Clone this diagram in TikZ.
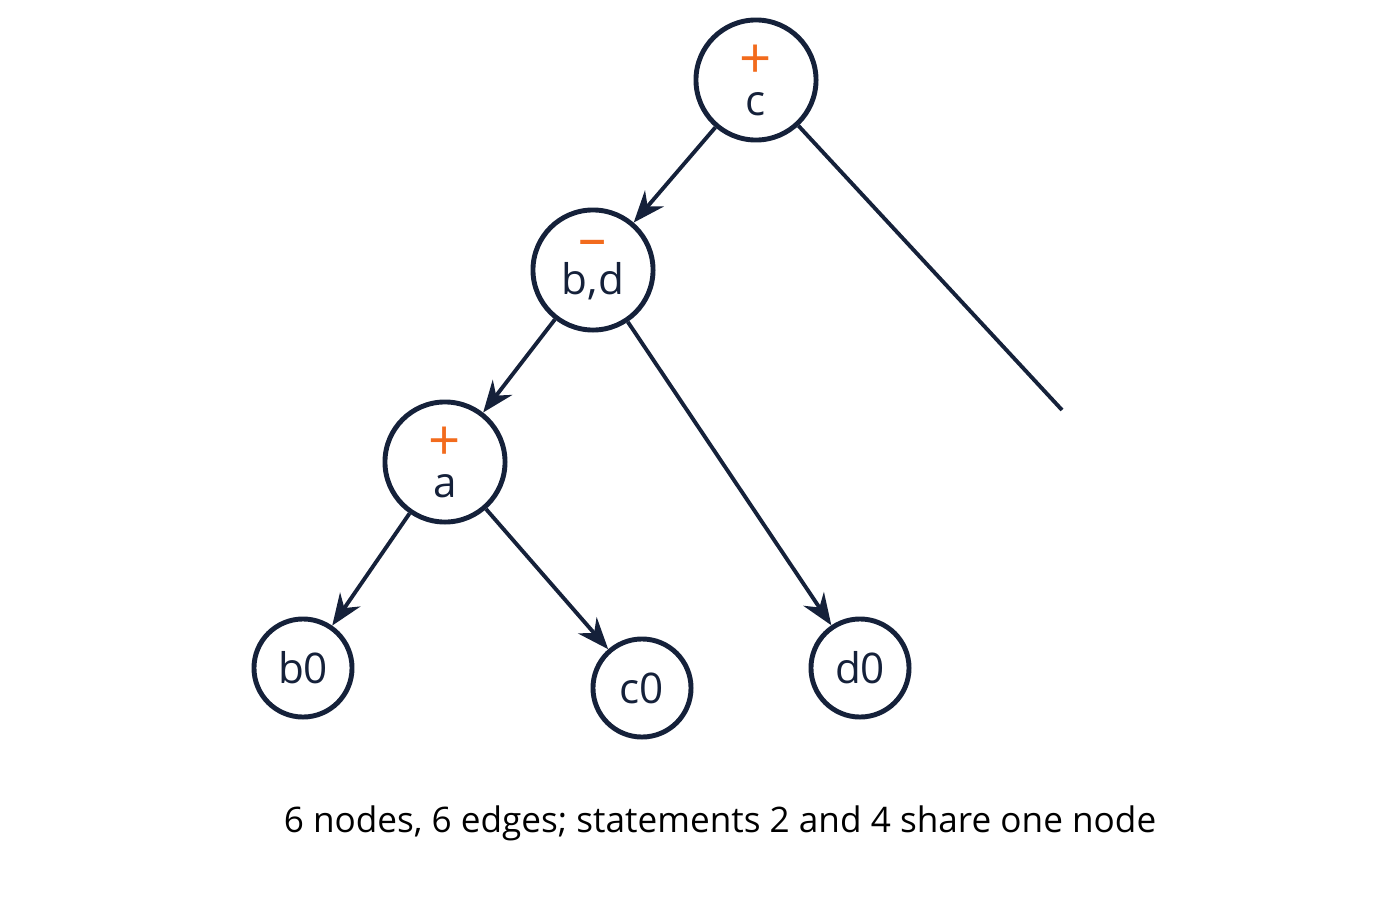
\documentclass[tikz,border=0pt]{standalone}
\usepackage{fontspec}
\setmainfont{Open Sans}
\usetikzlibrary{arrows.meta}
\definecolor{ink}{HTML}{15213A}
\definecolor{op}{HTML}{F26B1D}
\begin{document}
\begin{tikzpicture}[x=0.01cm,y=-0.01cm,
  big/.style={circle,draw=ink,line width=1.4pt,minimum size=1.2cm,inner sep=0pt,align=center,font=\fontsize{12}{12}\selectfont,text=ink},
  leaf/.style={circle,draw=ink,line width=1.4pt,minimum size=0.98cm,inner sep=0pt,font=\fontsize{12}{12}\selectfont,text=ink},
  edge/.style={draw=ink,line width=1.1pt,-{Stealth[length=9pt,width=7pt]}}]
\useasboundingbox (0,0) rectangle (1400,900);
\node[big] (c) at (756,80) {\textcolor{op}{\fontsize{16}{16}\selectfont +}\\[-1.5pt]c};
\node[big] (bd) at (593,270) {\textcolor{op}{\fontsize{16}{16}\selectfont –}\\[-1.5pt]b,d};
\node[big] (a) at (445,462) {\textcolor{op}{\fontsize{16}{16}\selectfont +}\\[-1.5pt]a};
\node[leaf] (b0) at (303,668) {b0};
\node[leaf] (c0) at (642,688) {c0};
\node[leaf] (d0) at (860,668) {d0};
\coordinate (free) at (1062,410);
\draw[edge] (c) -- (bd);
\draw[draw=ink,line width=1.1pt] (c) -- (free);
\draw[edge] (bd) -- (a);
\draw[edge] (bd) -- (d0);
\draw[edge] (a) -- (b0);
\draw[edge] (a) -- (c0);
\node[text=black,font=\fontsize{10}{12}\selectfont] (cap) at (720,823) {6 nodes, 6 edges; statements 2 and 4 share one node};
\end{tikzpicture}
\end{document}
